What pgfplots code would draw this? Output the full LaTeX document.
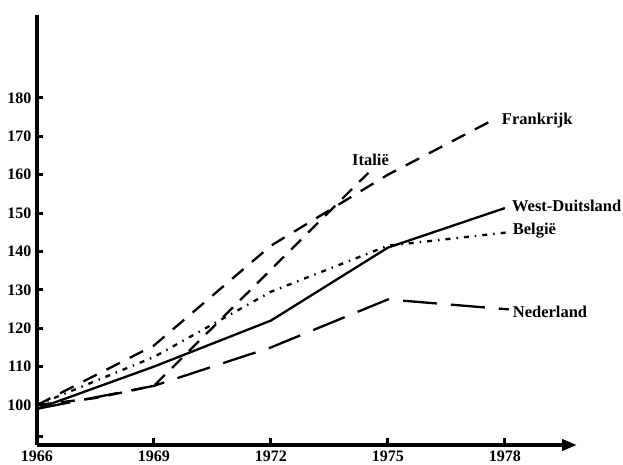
\documentclass[border=0pt]{standalone}
\usepackage{pgfplots}
\pgfplotsset{compat=1.18}
\usepackage{fontspec}
\setmainfont{Liberation Serif}
\usetikzlibrary{arrows.meta}
\begin{document}
\fontsize{16.5}{19}\selectfont\bfseries
\begin{tikzpicture}[x=1pt,y=1pt]
\path[use as bounding box] (0,0) rectangle (623,465);
\begin{axis}[
  at={(37pt,20pt)}, anchor=south west,
  scale only axis, width=540pt, height=430pt,
  xmin=1966, xmax=1979.85, ymin=89.58, ymax=201.6,
  separate axis lines,
  axis x line=bottom, axis y line=left,
  x axis line style={line width=4.2pt, -{Triangle[length=15pt,width=11pt]}},
  y axis line style={line width=4.2pt, -},
  xtick={1966,1969,1972,1975,1978},
  xticklabels={1966,1969,1972,1975,1978},
  ytick={91.7,100,110,120,130,140,150,160,170,180},
  yticklabels={,100,110,120,130,140,150,160,170,180},
  tick align=inside,
  major tick length=6.5pt,
  every tick/.style={line width=3pt, black},
  xticklabel style={font=\fontsize{16}{18}\selectfont\bfseries, yshift=0pt},
  yticklabel style={font=\fontsize{16}{18}\selectfont\bfseries, xshift=0pt},
  clip=false,
  every axis plot/.append style={line width=2.3pt, black},
]
% Frankrijk
\addplot[dash pattern=on 15pt off 11pt] coordinates {(1966,100) (1969,115.5) (1972,141.5) (1975,160) (1977.8,174.8)};
% Italie
\addplot[dash pattern=on 14pt off 10pt] coordinates {(1966,100) (1967.5,101.8) (1969,105) (1974.5,160.5)};
% West-Duitsland
\addplot[solid] coordinates {(1966,99) (1969,110) (1972,122) (1975,141) (1978,151.3)};
% Belgie
\addplot[dash pattern=on 5pt off 6pt on 1.5pt off 6pt] coordinates {(1966,100) (1969,112.5) (1972,129.5) (1975,141.5) (1978.1,145)};
% Nederland
\addplot[dash pattern=on 34pt off 14pt] coordinates {(1966,99) (1969,105) (1972,115) (1975,127.5) (1978.1,124.9)};

\node[anchor=base west, inner sep=0pt] at (axis cs:1977.92,172.96) {Frankrijk};
\node[anchor=base west, inner sep=0pt] at (axis cs:1974.08,162.5) {Italië};
\node[anchor=base west, inner sep=0pt] at (axis cs:1978.18,150.5) {West-Duitsland};
\node[anchor=base west, inner sep=0pt] at (axis cs:1978.2,144.3) {België};
\node[anchor=base west, inner sep=0pt] at (axis cs:1978.2,122.9) {Nederland};
\end{axis}
\end{tikzpicture}
\end{document}
